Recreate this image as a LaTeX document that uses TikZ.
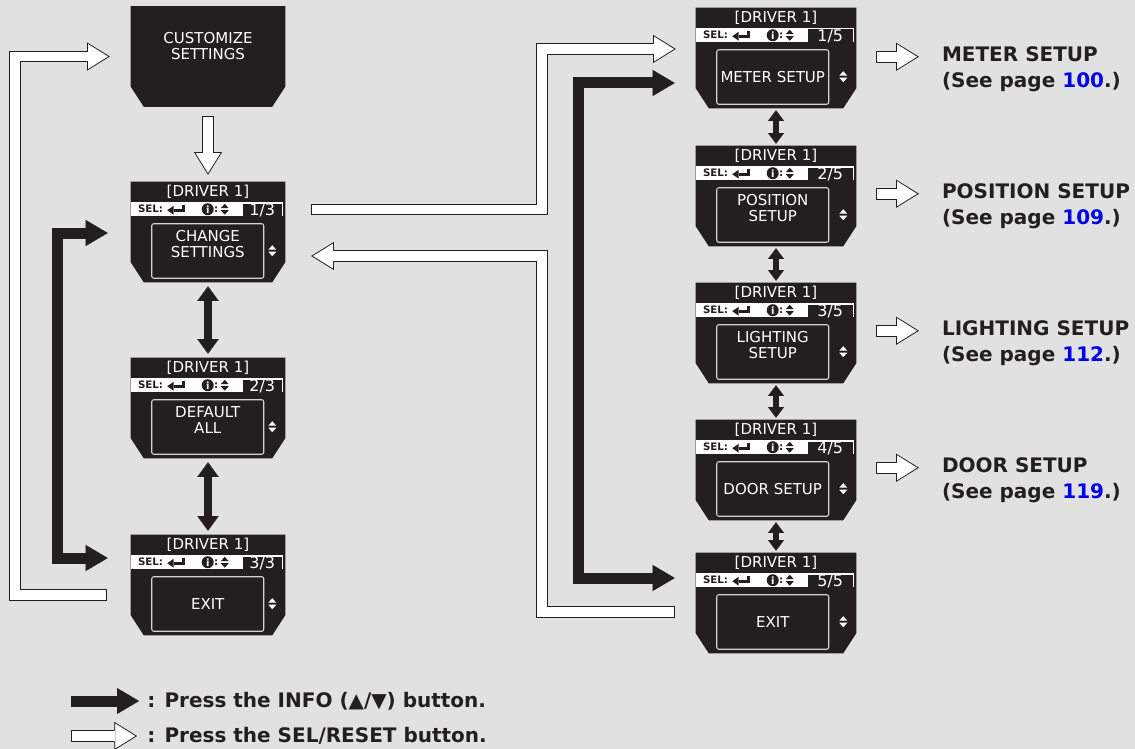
\documentclass[tikz,border=0pt]{standalone}
\usepackage{fontspec}
\setmainfont{DejaVu Sans}
\usetikzlibrary{arrows.meta,calc}

\definecolor{lcdblack}{RGB}{35,31,32}
\definecolor{panelgray}{RGB}{225,225,225}
\definecolor{framegray}{RGB}{210,210,210}
\definecolor{pageblue}{RGB}{0,0,235}

% black display body with cut lower corners: name, x, y, width
\newcommand{\lcdshell}[4]{%
  \node[lcdbox, minimum width=#4*0.75pt] (#1) at (#2,#3) {};
  \fill[lcdblack] (#1.north west) -- (#1.north east) -- ($(#1.south east)+(0,-20)$)
    -- ($(#1.south east)+(-13,0)$) -- ($(#1.south west)+(13,0)$) -- ($(#1.south west)+(0,-20)$) -- cycle;
}
% menu display: name, x, y, width, page, item, item shift
\newcommand{\lcdscreen}[7]{%
  \lcdshell{#1}{#2}{#3}{#4}
  \node[lcdtext] at ($(#1.north)+(0,10.5)$) {[DRIVER 1]};
  \fill[white] ($(#1.north west)+(0,20.5)$) rectangle ($(#1.north east)+(-2,34.5)$);
  \node[lcdpage, anchor=north east, minimum width={(#4-114.5)*0.75pt}] at ($(#1.north east)+(-3,21.5)$) {#5};
  \node[lcdsel, anchor=west] at ($(#1.north west)+(7,27.5)$) {SEL:};
  \pic at ($(#1.north west)+(46,27.5)$) {enterkey};
  \node[infodot] at ($(#1.north west)+(77,27.5)$) {i};
  \node[lcdsel] at ($(#1.north west)+(85.5,27.5)$) {:};
  \pic[fill=lcdblack] at ($(#1.north west)+(94,27.5)$) {updown};
  \draw[lcdframe] ($(#1.north west)+(21,42)$) rectangle ($(#1.north west)+(133,96.5)$);
  \node[lcdtext] at ($(#1.north west)+(77,{69+#7})$) {#6};
  \pic[fill=white] at ($(#1.north east)+(-13,69)$) {updown};
}

\begin{document}
\begin{tikzpicture}[x=0.75pt, y=-0.75pt,
  lcdbox/.style={rectangle, inner sep=0, minimum height=75pt},
  lcdtext/.style={text=white, align=center, inner sep=0, font=\fontsize{11.25}{11.8}\selectfont},
  lcdsel/.style={text=lcdblack, inner sep=0, font=\bfseries\fontsize{7.7}{8}\selectfont},
  lcdpage/.style={fill=lcdblack, text=white, inner sep=0, minimum height=9pt, font=\fontsize{12}{12}\selectfont},
  lcdframe/.style={draw=framegray, line width=0.8pt, rounded corners=1.5pt},
  infodot/.style={circle, fill=lcdblack, text=white, inner sep=0, minimum size=9pt, font=\bfseries\fontsize{7.5}{7.5}\selectfont},
  sidelabel/.style={anchor=north west, align=left, inner sep=0, text=lcdblack, font=\bfseries\fontsize{15}{19}\selectfont},
  legendtext/.style={anchor=west, inner sep=0, text=lcdblack, font=\bfseries\fontsize{15}{18}\selectfont},
  fatarrow/.style={draw=lcdblack, line width=8.25pt, line join=miter, >={Triangle[length=16.5pt,width=19.5pt,line width=.1pt]}},
  hollow/.style={draw=white, line width=7.2pt, line join=miter, shorten <=0.75pt, shorten >=1.4pt,
    -{Triangle[length=14.8pt,width=18.4pt,line width=.1pt]},
    preaction={draw=lcdblack, line width=8.7pt, shorten <=0pt, shorten >=0pt, -{Triangle[length=17pt,width=21pt,line width=.1pt]}}},
  bigtwoway/.style={draw=lcdblack, line width=6pt, {Triangle[length=11pt,width=16pt,line width=.1pt]}-{Triangle[length=11pt,width=16pt,line width=.1pt]}},
  smalltwoway/.style={draw=lcdblack, line width=4.5pt, {Triangle[length=8pt,width=12pt,line width=.1pt]}-{Triangle[length=8pt,width=12pt,line width=.1pt]}},
  updown/.pic={\fill[pic actions] (-4,-1) -- (4,-1) -- (0,-5.5) -- cycle (-4,1) -- (4,1) -- (0,5.5) -- cycle;},
  enterkey/.pic={\draw[lcdblack, line width=2pt] (6.5,-4.5) -- (6.5,1) -- (-3,1); \fill[lcdblack] (-9.5,1) -- (-3,-3.5) -- (-3,5.5) -- cycle;}]
\useasboundingbox (0,0) rectangle (1135,749);
\fill[panelgray] (0,0) rectangle (1135,749);

% left column
\lcdshell{cs}{208}{56.5}{154}
\node[lcdtext] (cstext) at (208,46) {CUSTOMIZE\\SETTINGS};
\lcdscreen{l1}{208}{232}{154}{1/3}{CHANGE\\SETTINGS}{-7}
\lcdscreen{l2}{208}{408}{154}{2/3}{DEFAULT\\ALL}{-7}
\lcdscreen{l3}{208}{585}{154}{3/3}{EXIT}{0}

% right column
\lcdscreen{r1}{776}{58}{160}{1/5}{METER SETUP}{0}
\lcdscreen{r2}{776}{196}{160}{2/5}{POSITION\\SETUP}{-7}
\lcdscreen{r3}{776}{333}{160}{3/5}{LIGHTING\\SETUP}{-7}
\lcdscreen{r4}{776}{470}{160}{4/5}{DOOR SETUP}{0}
\lcdscreen{r5}{776}{603}{160}{5/5}{EXIT}{0}

% pages
\node[sidelabel] (meter) at ($(r1.north east)+(85.5,39)$) {METER SETUP\\(See page \textcolor{pageblue}{100}.)};
\node[sidelabel] (position) at ($(r2.north east)+(85.5,38)$) {POSITION SETUP\\(See page \textcolor{pageblue}{109}.)};
\node[sidelabel] (lighting) at ($(r3.north east)+(85.5,38)$) {LIGHTING SETUP\\(See page \textcolor{pageblue}{112}.)};
\node[sidelabel] (door) at ($(r4.north east)+(85.5,38)$) {DOOR SETUP\\(See page \textcolor{pageblue}{119}.)};
\foreach \p in {meter, position, lighting, door}
  \draw[hollow] ($(\p.north west)+(-66,10)$) -- ($(\p.north west)+(-23,10)$);

% INFO steps
\draw[bigtwoway] ($(l1.south)+(0,4)$) -- ($(l2.north)+(0,-4)$);
\draw[bigtwoway] ($(l2.south)+(0,4)$) -- ($(l3.north)+(0,-4)$);
\foreach \a/\b in {r1/r2, r2/r3, r3/r4, r4/r5}
  \draw[smalltwoway] ($(\a.south)+(0,2)$) -- ($(\b.north)+(0,-2)$);
\draw[fatarrow, <->] ($(l1.west)+(-23,1)$) -- ++(-50,0) |- ($(l3.west)+(-23,-27)$);
\draw[fatarrow, <->] ($(r1.west)+(-21,25)$) -- ++(-96,0) |- ($(r5.west)+(-21,-25)$);

% SEL/RESET steps
\draw[hollow] ($(cs.south)+(0,9)$) -- ($(l1.north)+(0,-7)$);
\draw[hollow] ($(l3.west)+(-24,10)$) -- ++(-92,0) |- ($(cs.west)+(-21,0)$);
\draw[hollow] ($(l1.east)+(26,-22.5)$) -- ++(231,0) |- ($(r1.west)+(-20,-9)$);
\draw[hollow] ($(r5.west)+(-21,9)$) -- ++(-133,0) |- ($(l1.east)+(26,24)$);

% legend
\node[legendtext] (keyinfo) at (147,701) {: Press the INFO (▲/▼) button.};
\node[legendtext] (keysel) at (147,736) {: Press the SEL/RESET button.};
\draw[fatarrow, ->] ($(keyinfo.west)+(-76,0)$) -- ($(keyinfo.west)+(-8,0)$);
\draw[hollow] ($(keysel.west)+(-76,0)$) -- ($(keysel.west)+(-10,0)$);
\end{tikzpicture}
\end{document}
